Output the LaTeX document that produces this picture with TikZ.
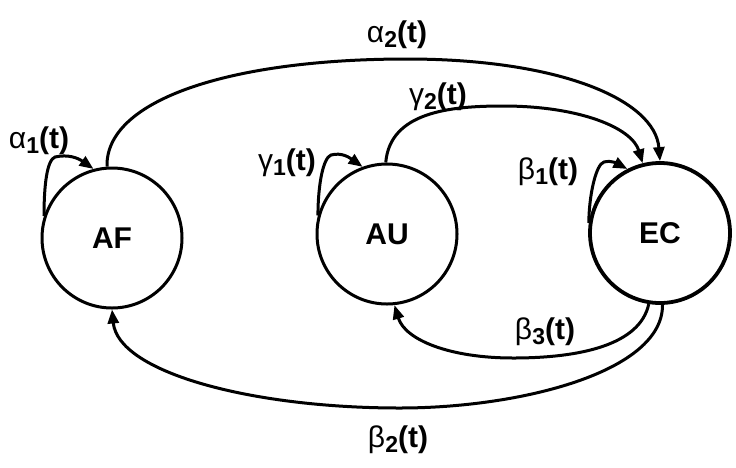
\documentclass[tikz,border=0pt]{standalone}
\usepackage{fontspec}
\setmainfont{Liberation Sans}
\usetikzlibrary{arrows.meta}
\newcommand\glab[2]{{\mdseries #1}\raisebox{-0.3ex}{\fontsize{23}{24}\selectfont\bfseries #2}(t)}
\begin{document}
\begin{tikzpicture}[x=1pt,y=-1pt,
  state/.style={circle,draw,line width=3pt,minimum size=140pt,inner sep=0pt,
    font=\fontsize{30}{32}\selectfont\bfseries},
  conn/.style={line width=3pt,-{Triangle[length=14pt,width=11pt]}},
  lab/.style={font=\fontsize{30}{32}\selectfont\bfseries,inner sep=0pt}]
\useasboundingbox (0,0) rectangle (736,467);
\node[state] (AF) at (112,238) {AF};
\node[state] (AU) at (387,234) {AU};
\node[state,line width=3.8pt] (EC) at (660,233) {EC};
% alpha2
\draw[conn] (AF.94) .. controls (105,100) and (230,59) .. (407,59)
  .. controls (560,59) and (655,100) .. (EC.90);
% gamma2
\draw[conn] (AU.91) .. controls (390,112) and (450,106) .. (503,106)
  .. controls (580,106) and (632,128) .. (EC.104);
% self loops
\draw[conn] (AF.162) .. controls (44,185) and (47,160) .. (55,157)
  .. controls (68,154) and (78,158) .. (AF.105);
\draw[conn] (AU.165) .. controls (318,185) and (323,158) .. (331,155)
  .. controls (342,152) and (350,158) .. (AU.110);
\draw[conn] (EC.172) .. controls (589,195) and (596,164) .. (604,162)
  .. controls (612,160) and (618,164) .. (EC.117);
% beta3
\draw[conn] (EC.-99) .. controls (640,345) and (580,358) .. (513,358)
  .. controls (450,358) and (405,340) .. (AU.-84);
% beta2
\draw[conn] (EC.-88) .. controls (663,372) and (520,408) .. (400,408)
  .. controls (250,408) and (118,372) .. (AF.-90);
% labels
\node[lab] (la2) at (397,35) {\glab{α}{2}};
\node[lab] (lg2) at (438,97) {\glab{γ}{2}};
\node[lab] (la1) at (39,141) {\glab{α}{1}};
\node[lab] (lg1) at (287,163) {\glab{γ}{1}};
\node[lab] (lb1) at (548,172) {\glab{β}{1}};
\node[lab] (lb3) at (545,332) {\glab{β}{3}};
\node[lab] (lb2) at (398,440) {\glab{β}{2}};
\end{tikzpicture}
\end{document}
